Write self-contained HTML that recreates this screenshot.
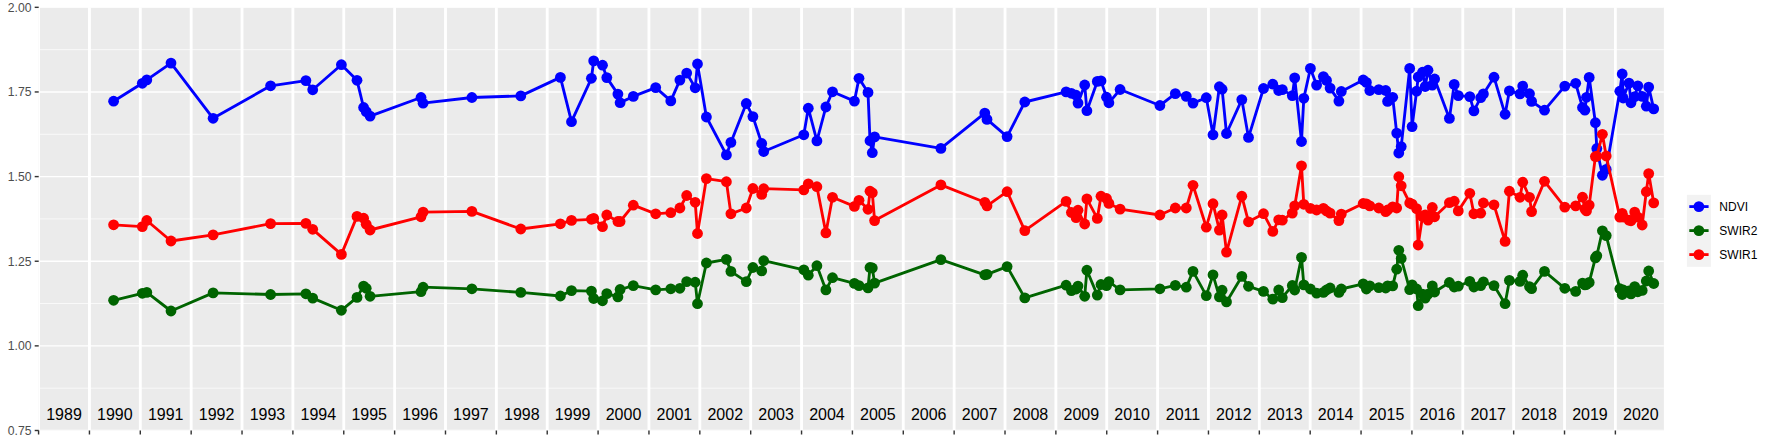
<!DOCTYPE html>
<html><head><meta charset="utf-8"><title>NDVI SWIR time series</title><style>html,body{margin:0;padding:0;background:#fff}svg{display:block}</style></head><body>
<svg width="1773" height="442" viewBox="0 0 1773 442" font-family="'Liberation Sans', sans-serif">
<rect width="1773" height="442" fill="#fff"/>
<defs><clipPath id="pc"><rect x="38.7" y="7.33" width="1625.2" height="423.17"/></clipPath></defs>
<rect x="38.7" y="7.33" width="1625.2" height="423.17" fill="#EBEBEB"/>
<g clip-path="url(#pc)" stroke="#fff" fill="none">
<line x1="38.7" x2="1663.9" y1="49.65" y2="49.65" stroke-width="0.71"/>
<line x1="38.7" x2="1663.9" y1="134.28" y2="134.28" stroke-width="0.71"/>
<line x1="38.7" x2="1663.9" y1="218.92" y2="218.92" stroke-width="0.71"/>
<line x1="38.7" x2="1663.9" y1="303.55" y2="303.55" stroke-width="0.71"/>
<line x1="38.7" x2="1663.9" y1="388.18" y2="388.18" stroke-width="0.71"/>
<line x1="38.7" x2="1663.9" y1="7.33" y2="7.33" stroke-width="1.42"/>
<line x1="38.7" x2="1663.9" y1="91.96" y2="91.96" stroke-width="1.42"/>
<line x1="38.7" x2="1663.9" y1="176.60" y2="176.60" stroke-width="1.42"/>
<line x1="38.7" x2="1663.9" y1="261.23" y2="261.23" stroke-width="1.42"/>
<line x1="38.7" x2="1663.9" y1="345.87" y2="345.87" stroke-width="1.42"/>
<line x1="38.7" x2="1663.9" y1="430.50" y2="430.50" stroke-width="1.42"/>
<line x1="38.57" x2="38.57" y1="7.33" y2="430.5" stroke-width="2.85"/>
<line x1="89.44" x2="89.44" y1="7.33" y2="430.5" stroke-width="2.85"/>
<line x1="140.30" x2="140.30" y1="7.33" y2="430.5" stroke-width="2.85"/>
<line x1="191.17" x2="191.17" y1="7.33" y2="430.5" stroke-width="2.85"/>
<line x1="242.03" x2="242.03" y1="7.33" y2="430.5" stroke-width="2.85"/>
<line x1="292.89" x2="292.89" y1="7.33" y2="430.5" stroke-width="2.85"/>
<line x1="343.76" x2="343.76" y1="7.33" y2="430.5" stroke-width="2.85"/>
<line x1="394.62" x2="394.62" y1="7.33" y2="430.5" stroke-width="2.85"/>
<line x1="445.49" x2="445.49" y1="7.33" y2="430.5" stroke-width="2.85"/>
<line x1="496.36" x2="496.36" y1="7.33" y2="430.5" stroke-width="2.85"/>
<line x1="547.22" x2="547.22" y1="7.33" y2="430.5" stroke-width="2.85"/>
<line x1="598.09" x2="598.09" y1="7.33" y2="430.5" stroke-width="2.85"/>
<line x1="648.95" x2="648.95" y1="7.33" y2="430.5" stroke-width="2.85"/>
<line x1="699.82" x2="699.82" y1="7.33" y2="430.5" stroke-width="2.85"/>
<line x1="750.68" x2="750.68" y1="7.33" y2="430.5" stroke-width="2.85"/>
<line x1="801.55" x2="801.55" y1="7.33" y2="430.5" stroke-width="2.85"/>
<line x1="852.41" x2="852.41" y1="7.33" y2="430.5" stroke-width="2.85"/>
<line x1="903.28" x2="903.28" y1="7.33" y2="430.5" stroke-width="2.85"/>
<line x1="954.14" x2="954.14" y1="7.33" y2="430.5" stroke-width="2.85"/>
<line x1="1005.01" x2="1005.01" y1="7.33" y2="430.5" stroke-width="2.85"/>
<line x1="1055.87" x2="1055.87" y1="7.33" y2="430.5" stroke-width="2.85"/>
<line x1="1106.74" x2="1106.74" y1="7.33" y2="430.5" stroke-width="2.85"/>
<line x1="1157.60" x2="1157.60" y1="7.33" y2="430.5" stroke-width="2.85"/>
<line x1="1208.46" x2="1208.46" y1="7.33" y2="430.5" stroke-width="2.85"/>
<line x1="1259.33" x2="1259.33" y1="7.33" y2="430.5" stroke-width="2.85"/>
<line x1="1310.19" x2="1310.19" y1="7.33" y2="430.5" stroke-width="2.85"/>
<line x1="1361.06" x2="1361.06" y1="7.33" y2="430.5" stroke-width="2.85"/>
<line x1="1411.92" x2="1411.92" y1="7.33" y2="430.5" stroke-width="2.85"/>
<line x1="1462.79" x2="1462.79" y1="7.33" y2="430.5" stroke-width="2.85"/>
<line x1="1513.65" x2="1513.65" y1="7.33" y2="430.5" stroke-width="2.85"/>
<line x1="1564.52" x2="1564.52" y1="7.33" y2="430.5" stroke-width="2.85"/>
<line x1="1615.38" x2="1615.38" y1="7.33" y2="430.5" stroke-width="2.85"/>
</g>
<g clip-path="url(#pc)"><polyline points="113.6,101.2 142.3,83.3 146.8,79.9 171.0,63.1 213.1,118.3 270.6,85.8 305.9,80.6 312.7,89.8 341.4,64.7 357.0,80.3 363.6,107.5 366.2,111.6 370.1,116.1 421.0,97.5 423.1,103.2 471.9,97.5 520.8,95.9 560.4,77.4 571.5,121.7 591.4,78.3 593.7,60.9 602.5,65.2 606.8,77.6 617.9,94.1 620.1,102.7 633.3,96.4 655.7,87.6 670.8,100.9 679.9,80.1 686.7,73.1 695.2,87.8 697.5,64.0 706.4,117.0 726.4,154.9 730.9,142.4 746.3,103.5 752.9,116.6 761.7,143.5 763.7,151.5 803.8,134.8 808.3,108.2 816.9,140.9 825.9,107.0 832.5,91.8 854.4,101.1 859.0,78.3 868.0,92.4 870.0,140.7 872.3,152.7 874.6,136.9 940.9,148.4 984.8,113.1 987.0,119.4 1007.1,136.6 1024.8,102.0 1066.1,91.9 1071.4,93.3 1076.1,95.2 1078.0,103.1 1084.7,85.0 1086.9,110.7 1097.3,81.4 1101.0,80.9 1106.5,97.2 1108.9,102.8 1120.1,89.5 1159.9,105.5 1175.3,93.6 1186.3,96.4 1193.0,103.1 1206.3,97.7 1213.0,134.8 1219.4,86.7 1222.1,89.2 1226.5,133.5 1241.8,99.6 1248.5,137.4 1263.5,88.5 1272.8,84.2 1278.7,90.5 1282.3,89.6 1292.3,95.6 1294.7,77.9 1301.5,141.5 1303.8,98.3 1310.4,68.4 1316.6,85.1 1323.4,76.6 1326.5,80.4 1330.1,88.1 1338.9,101.1 1341.3,91.5 1363.2,80.0 1366.4,82.4 1369.8,90.5 1378.8,89.6 1385.7,90.5 1387.6,101.4 1392.7,97.3 1396.7,133.1 1398.8,153.0 1401.2,146.6 1409.7,68.4 1412.1,126.6 1416.6,91.2 1418.2,77.0 1422.5,72.2 1425.2,86.5 1428.0,70.2 1432.3,85.1 1434.6,79.0 1449.4,118.4 1454.2,84.4 1458.3,95.6 1469.8,96.6 1473.9,110.9 1480.7,97.7 1483.4,93.9 1494.0,77.2 1505.1,114.3 1509.4,90.9 1520.0,93.9 1522.7,86.1 1529.5,93.7 1531.6,101.4 1544.5,110.2 1564.8,86.1 1575.7,83.3 1582.5,107.5 1584.9,110.2 1586.5,97.3 1589.2,77.4 1595.4,122.7 1596.8,148.5 1602.4,175.3 1606.2,169.4 1619.8,91.2 1622.2,74.0 1623.2,98.0 1629.0,83.1 1631.0,102.8 1634.7,96.6 1637.8,85.8 1642.2,96.4 1646.3,106.2 1648.7,87.1 1653.7,108.9" fill="none" stroke="#0000FF" stroke-width="2.85" stroke-linejoin="round" stroke-linecap="butt"/><g fill="#0000FF"><circle cx="113.6" cy="101.2" r="5.4"/><circle cx="142.3" cy="83.3" r="5.4"/><circle cx="146.8" cy="79.9" r="5.4"/><circle cx="171.0" cy="63.1" r="5.4"/><circle cx="213.1" cy="118.3" r="5.4"/><circle cx="270.6" cy="85.8" r="5.4"/><circle cx="305.9" cy="80.6" r="5.4"/><circle cx="312.7" cy="89.8" r="5.4"/><circle cx="341.4" cy="64.7" r="5.4"/><circle cx="357.0" cy="80.3" r="5.4"/><circle cx="363.6" cy="107.5" r="5.4"/><circle cx="366.2" cy="111.6" r="5.4"/><circle cx="370.1" cy="116.1" r="5.4"/><circle cx="421.0" cy="97.5" r="5.4"/><circle cx="423.1" cy="103.2" r="5.4"/><circle cx="471.9" cy="97.5" r="5.4"/><circle cx="520.8" cy="95.9" r="5.4"/><circle cx="560.4" cy="77.4" r="5.4"/><circle cx="571.5" cy="121.7" r="5.4"/><circle cx="591.4" cy="78.3" r="5.4"/><circle cx="593.7" cy="60.9" r="5.4"/><circle cx="602.5" cy="65.2" r="5.4"/><circle cx="606.8" cy="77.6" r="5.4"/><circle cx="617.9" cy="94.1" r="5.4"/><circle cx="620.1" cy="102.7" r="5.4"/><circle cx="633.3" cy="96.4" r="5.4"/><circle cx="655.7" cy="87.6" r="5.4"/><circle cx="670.8" cy="100.9" r="5.4"/><circle cx="679.9" cy="80.1" r="5.4"/><circle cx="686.7" cy="73.1" r="5.4"/><circle cx="695.2" cy="87.8" r="5.4"/><circle cx="697.5" cy="64.0" r="5.4"/><circle cx="706.4" cy="117.0" r="5.4"/><circle cx="726.4" cy="154.9" r="5.4"/><circle cx="730.9" cy="142.4" r="5.4"/><circle cx="746.3" cy="103.5" r="5.4"/><circle cx="752.9" cy="116.6" r="5.4"/><circle cx="761.7" cy="143.5" r="5.4"/><circle cx="763.7" cy="151.5" r="5.4"/><circle cx="803.8" cy="134.8" r="5.4"/><circle cx="808.3" cy="108.2" r="5.4"/><circle cx="816.9" cy="140.9" r="5.4"/><circle cx="825.9" cy="107.0" r="5.4"/><circle cx="832.5" cy="91.8" r="5.4"/><circle cx="854.4" cy="101.1" r="5.4"/><circle cx="859.0" cy="78.3" r="5.4"/><circle cx="868.0" cy="92.4" r="5.4"/><circle cx="870.0" cy="140.7" r="5.4"/><circle cx="872.3" cy="152.7" r="5.4"/><circle cx="874.6" cy="136.9" r="5.4"/><circle cx="940.9" cy="148.4" r="5.4"/><circle cx="984.8" cy="113.1" r="5.4"/><circle cx="987.0" cy="119.4" r="5.4"/><circle cx="1007.1" cy="136.6" r="5.4"/><circle cx="1024.8" cy="102.0" r="5.4"/><circle cx="1066.1" cy="91.9" r="5.4"/><circle cx="1071.4" cy="93.3" r="5.4"/><circle cx="1076.1" cy="95.2" r="5.4"/><circle cx="1078.0" cy="103.1" r="5.4"/><circle cx="1084.7" cy="85.0" r="5.4"/><circle cx="1086.9" cy="110.7" r="5.4"/><circle cx="1097.3" cy="81.4" r="5.4"/><circle cx="1101.0" cy="80.9" r="5.4"/><circle cx="1106.5" cy="97.2" r="5.4"/><circle cx="1108.9" cy="102.8" r="5.4"/><circle cx="1120.1" cy="89.5" r="5.4"/><circle cx="1159.9" cy="105.5" r="5.4"/><circle cx="1175.3" cy="93.6" r="5.4"/><circle cx="1186.3" cy="96.4" r="5.4"/><circle cx="1193.0" cy="103.1" r="5.4"/><circle cx="1206.3" cy="97.7" r="5.4"/><circle cx="1213.0" cy="134.8" r="5.4"/><circle cx="1219.4" cy="86.7" r="5.4"/><circle cx="1222.1" cy="89.2" r="5.4"/><circle cx="1226.5" cy="133.5" r="5.4"/><circle cx="1241.8" cy="99.6" r="5.4"/><circle cx="1248.5" cy="137.4" r="5.4"/><circle cx="1263.5" cy="88.5" r="5.4"/><circle cx="1272.8" cy="84.2" r="5.4"/><circle cx="1278.7" cy="90.5" r="5.4"/><circle cx="1282.3" cy="89.6" r="5.4"/><circle cx="1292.3" cy="95.6" r="5.4"/><circle cx="1294.7" cy="77.9" r="5.4"/><circle cx="1301.5" cy="141.5" r="5.4"/><circle cx="1303.8" cy="98.3" r="5.4"/><circle cx="1310.4" cy="68.4" r="5.4"/><circle cx="1316.6" cy="85.1" r="5.4"/><circle cx="1323.4" cy="76.6" r="5.4"/><circle cx="1326.5" cy="80.4" r="5.4"/><circle cx="1330.1" cy="88.1" r="5.4"/><circle cx="1338.9" cy="101.1" r="5.4"/><circle cx="1341.3" cy="91.5" r="5.4"/><circle cx="1363.2" cy="80.0" r="5.4"/><circle cx="1366.4" cy="82.4" r="5.4"/><circle cx="1369.8" cy="90.5" r="5.4"/><circle cx="1378.8" cy="89.6" r="5.4"/><circle cx="1385.7" cy="90.5" r="5.4"/><circle cx="1387.6" cy="101.4" r="5.4"/><circle cx="1392.7" cy="97.3" r="5.4"/><circle cx="1396.7" cy="133.1" r="5.4"/><circle cx="1398.8" cy="153.0" r="5.4"/><circle cx="1401.2" cy="146.6" r="5.4"/><circle cx="1409.7" cy="68.4" r="5.4"/><circle cx="1412.1" cy="126.6" r="5.4"/><circle cx="1416.6" cy="91.2" r="5.4"/><circle cx="1418.2" cy="77.0" r="5.4"/><circle cx="1422.5" cy="72.2" r="5.4"/><circle cx="1425.2" cy="86.5" r="5.4"/><circle cx="1428.0" cy="70.2" r="5.4"/><circle cx="1432.3" cy="85.1" r="5.4"/><circle cx="1434.6" cy="79.0" r="5.4"/><circle cx="1449.4" cy="118.4" r="5.4"/><circle cx="1454.2" cy="84.4" r="5.4"/><circle cx="1458.3" cy="95.6" r="5.4"/><circle cx="1469.8" cy="96.6" r="5.4"/><circle cx="1473.9" cy="110.9" r="5.4"/><circle cx="1480.7" cy="97.7" r="5.4"/><circle cx="1483.4" cy="93.9" r="5.4"/><circle cx="1494.0" cy="77.2" r="5.4"/><circle cx="1505.1" cy="114.3" r="5.4"/><circle cx="1509.4" cy="90.9" r="5.4"/><circle cx="1520.0" cy="93.9" r="5.4"/><circle cx="1522.7" cy="86.1" r="5.4"/><circle cx="1529.5" cy="93.7" r="5.4"/><circle cx="1531.6" cy="101.4" r="5.4"/><circle cx="1544.5" cy="110.2" r="5.4"/><circle cx="1564.8" cy="86.1" r="5.4"/><circle cx="1575.7" cy="83.3" r="5.4"/><circle cx="1582.5" cy="107.5" r="5.4"/><circle cx="1584.9" cy="110.2" r="5.4"/><circle cx="1586.5" cy="97.3" r="5.4"/><circle cx="1589.2" cy="77.4" r="5.4"/><circle cx="1595.4" cy="122.7" r="5.4"/><circle cx="1596.8" cy="148.5" r="5.4"/><circle cx="1602.4" cy="175.3" r="5.4"/><circle cx="1606.2" cy="169.4" r="5.4"/><circle cx="1619.8" cy="91.2" r="5.4"/><circle cx="1622.2" cy="74.0" r="5.4"/><circle cx="1623.2" cy="98.0" r="5.4"/><circle cx="1629.0" cy="83.1" r="5.4"/><circle cx="1631.0" cy="102.8" r="5.4"/><circle cx="1634.7" cy="96.6" r="5.4"/><circle cx="1637.8" cy="85.8" r="5.4"/><circle cx="1642.2" cy="96.4" r="5.4"/><circle cx="1646.3" cy="106.2" r="5.4"/><circle cx="1648.7" cy="87.1" r="5.4"/><circle cx="1653.7" cy="108.9" r="5.4"/></g></g>
<g clip-path="url(#pc)"><polyline points="113.6,300.3 142.3,293.3 146.8,292.4 171.0,311.0 213.1,292.9 270.6,294.5 305.9,293.8 312.7,298.1 341.4,310.3 357.0,297.4 363.6,286.1 366.2,288.3 370.1,296.3 421.0,291.7 423.1,287.2 471.9,288.8 520.8,292.4 560.4,296.0 571.5,290.6 591.4,291.1 593.7,298.5 602.5,300.8 606.8,293.6 617.9,296.9 620.1,289.5 633.3,285.6 655.7,289.9 670.8,288.8 679.9,288.3 686.7,281.6 695.2,282.2 697.5,303.7 706.4,263.0 726.4,259.4 730.9,271.4 746.3,281.6 752.9,267.5 761.7,270.9 763.7,260.7 803.8,269.8 808.3,275.2 816.9,265.7 825.9,289.9 832.5,277.7 854.4,283.4 859.0,285.6 868.0,287.9 870.0,267.5 872.3,268.0 874.6,283.1 940.9,259.6 984.8,274.8 987.0,274.3 1007.1,266.6 1024.8,297.9 1066.1,285.2 1071.4,290.6 1076.1,289.0 1078.0,286.1 1084.7,296.3 1086.9,270.2 1097.3,295.1 1101.0,284.5 1106.5,285.6 1108.9,281.6 1120.1,289.9 1159.9,288.8 1175.3,285.4 1186.3,287.2 1193.0,271.4 1206.3,295.6 1213.0,274.8 1219.4,296.9 1222.1,290.2 1226.5,301.9 1241.8,276.4 1248.5,286.3 1263.5,291.4 1272.8,299.2 1278.7,290.0 1282.3,297.7 1292.3,285.5 1294.7,290.0 1301.5,257.4 1303.8,284.9 1310.4,289.0 1316.6,293.1 1323.4,292.4 1326.5,290.0 1330.1,288.0 1338.9,292.4 1341.3,289.0 1363.2,283.9 1366.4,289.0 1369.8,285.9 1378.8,287.6 1385.7,288.0 1387.6,285.9 1392.7,285.9 1396.7,269.2 1398.8,250.3 1401.2,258.4 1409.7,289.6 1412.1,284.9 1416.6,289.0 1418.2,305.7 1422.5,294.1 1425.2,298.1 1428.0,294.1 1432.3,285.9 1434.6,292.0 1449.4,282.5 1454.2,287.0 1458.3,286.2 1469.8,281.4 1473.9,287.0 1480.7,285.6 1483.4,281.8 1494.0,285.6 1505.1,303.7 1509.4,280.4 1520.0,281.4 1522.7,275.2 1529.5,286.6 1531.6,288.7 1544.5,271.4 1564.8,288.3 1575.7,291.4 1582.5,283.1 1584.9,284.9 1586.5,284.5 1589.2,282.4 1595.4,257.9 1596.8,255.8 1602.4,230.8 1606.2,235.6 1619.8,288.7 1622.2,294.5 1623.2,290.0 1629.0,290.8 1631.0,293.9 1634.7,286.6 1637.8,291.8 1642.2,290.4 1646.3,281.0 1648.7,271.0 1653.7,283.5" fill="none" stroke="#006400" stroke-width="2.85" stroke-linejoin="round" stroke-linecap="butt"/><g fill="#006400"><circle cx="113.6" cy="300.3" r="5.4"/><circle cx="142.3" cy="293.3" r="5.4"/><circle cx="146.8" cy="292.4" r="5.4"/><circle cx="171.0" cy="311.0" r="5.4"/><circle cx="213.1" cy="292.9" r="5.4"/><circle cx="270.6" cy="294.5" r="5.4"/><circle cx="305.9" cy="293.8" r="5.4"/><circle cx="312.7" cy="298.1" r="5.4"/><circle cx="341.4" cy="310.3" r="5.4"/><circle cx="357.0" cy="297.4" r="5.4"/><circle cx="363.6" cy="286.1" r="5.4"/><circle cx="366.2" cy="288.3" r="5.4"/><circle cx="370.1" cy="296.3" r="5.4"/><circle cx="421.0" cy="291.7" r="5.4"/><circle cx="423.1" cy="287.2" r="5.4"/><circle cx="471.9" cy="288.8" r="5.4"/><circle cx="520.8" cy="292.4" r="5.4"/><circle cx="560.4" cy="296.0" r="5.4"/><circle cx="571.5" cy="290.6" r="5.4"/><circle cx="591.4" cy="291.1" r="5.4"/><circle cx="593.7" cy="298.5" r="5.4"/><circle cx="602.5" cy="300.8" r="5.4"/><circle cx="606.8" cy="293.6" r="5.4"/><circle cx="617.9" cy="296.9" r="5.4"/><circle cx="620.1" cy="289.5" r="5.4"/><circle cx="633.3" cy="285.6" r="5.4"/><circle cx="655.7" cy="289.9" r="5.4"/><circle cx="670.8" cy="288.8" r="5.4"/><circle cx="679.9" cy="288.3" r="5.4"/><circle cx="686.7" cy="281.6" r="5.4"/><circle cx="695.2" cy="282.2" r="5.4"/><circle cx="697.5" cy="303.7" r="5.4"/><circle cx="706.4" cy="263.0" r="5.4"/><circle cx="726.4" cy="259.4" r="5.4"/><circle cx="730.9" cy="271.4" r="5.4"/><circle cx="746.3" cy="281.6" r="5.4"/><circle cx="752.9" cy="267.5" r="5.4"/><circle cx="761.7" cy="270.9" r="5.4"/><circle cx="763.7" cy="260.7" r="5.4"/><circle cx="803.8" cy="269.8" r="5.4"/><circle cx="808.3" cy="275.2" r="5.4"/><circle cx="816.9" cy="265.7" r="5.4"/><circle cx="825.9" cy="289.9" r="5.4"/><circle cx="832.5" cy="277.7" r="5.4"/><circle cx="854.4" cy="283.4" r="5.4"/><circle cx="859.0" cy="285.6" r="5.4"/><circle cx="868.0" cy="287.9" r="5.4"/><circle cx="870.0" cy="267.5" r="5.4"/><circle cx="872.3" cy="268.0" r="5.4"/><circle cx="874.6" cy="283.1" r="5.4"/><circle cx="940.9" cy="259.6" r="5.4"/><circle cx="984.8" cy="274.8" r="5.4"/><circle cx="987.0" cy="274.3" r="5.4"/><circle cx="1007.1" cy="266.6" r="5.4"/><circle cx="1024.8" cy="297.9" r="5.4"/><circle cx="1066.1" cy="285.2" r="5.4"/><circle cx="1071.4" cy="290.6" r="5.4"/><circle cx="1076.1" cy="289.0" r="5.4"/><circle cx="1078.0" cy="286.1" r="5.4"/><circle cx="1084.7" cy="296.3" r="5.4"/><circle cx="1086.9" cy="270.2" r="5.4"/><circle cx="1097.3" cy="295.1" r="5.4"/><circle cx="1101.0" cy="284.5" r="5.4"/><circle cx="1106.5" cy="285.6" r="5.4"/><circle cx="1108.9" cy="281.6" r="5.4"/><circle cx="1120.1" cy="289.9" r="5.4"/><circle cx="1159.9" cy="288.8" r="5.4"/><circle cx="1175.3" cy="285.4" r="5.4"/><circle cx="1186.3" cy="287.2" r="5.4"/><circle cx="1193.0" cy="271.4" r="5.4"/><circle cx="1206.3" cy="295.6" r="5.4"/><circle cx="1213.0" cy="274.8" r="5.4"/><circle cx="1219.4" cy="296.9" r="5.4"/><circle cx="1222.1" cy="290.2" r="5.4"/><circle cx="1226.5" cy="301.9" r="5.4"/><circle cx="1241.8" cy="276.4" r="5.4"/><circle cx="1248.5" cy="286.3" r="5.4"/><circle cx="1263.5" cy="291.4" r="5.4"/><circle cx="1272.8" cy="299.2" r="5.4"/><circle cx="1278.7" cy="290.0" r="5.4"/><circle cx="1282.3" cy="297.7" r="5.4"/><circle cx="1292.3" cy="285.5" r="5.4"/><circle cx="1294.7" cy="290.0" r="5.4"/><circle cx="1301.5" cy="257.4" r="5.4"/><circle cx="1303.8" cy="284.9" r="5.4"/><circle cx="1310.4" cy="289.0" r="5.4"/><circle cx="1316.6" cy="293.1" r="5.4"/><circle cx="1323.4" cy="292.4" r="5.4"/><circle cx="1326.5" cy="290.0" r="5.4"/><circle cx="1330.1" cy="288.0" r="5.4"/><circle cx="1338.9" cy="292.4" r="5.4"/><circle cx="1341.3" cy="289.0" r="5.4"/><circle cx="1363.2" cy="283.9" r="5.4"/><circle cx="1366.4" cy="289.0" r="5.4"/><circle cx="1369.8" cy="285.9" r="5.4"/><circle cx="1378.8" cy="287.6" r="5.4"/><circle cx="1385.7" cy="288.0" r="5.4"/><circle cx="1387.6" cy="285.9" r="5.4"/><circle cx="1392.7" cy="285.9" r="5.4"/><circle cx="1396.7" cy="269.2" r="5.4"/><circle cx="1398.8" cy="250.3" r="5.4"/><circle cx="1401.2" cy="258.4" r="5.4"/><circle cx="1409.7" cy="289.6" r="5.4"/><circle cx="1412.1" cy="284.9" r="5.4"/><circle cx="1416.6" cy="289.0" r="5.4"/><circle cx="1418.2" cy="305.7" r="5.4"/><circle cx="1422.5" cy="294.1" r="5.4"/><circle cx="1425.2" cy="298.1" r="5.4"/><circle cx="1428.0" cy="294.1" r="5.4"/><circle cx="1432.3" cy="285.9" r="5.4"/><circle cx="1434.6" cy="292.0" r="5.4"/><circle cx="1449.4" cy="282.5" r="5.4"/><circle cx="1454.2" cy="287.0" r="5.4"/><circle cx="1458.3" cy="286.2" r="5.4"/><circle cx="1469.8" cy="281.4" r="5.4"/><circle cx="1473.9" cy="287.0" r="5.4"/><circle cx="1480.7" cy="285.6" r="5.4"/><circle cx="1483.4" cy="281.8" r="5.4"/><circle cx="1494.0" cy="285.6" r="5.4"/><circle cx="1505.1" cy="303.7" r="5.4"/><circle cx="1509.4" cy="280.4" r="5.4"/><circle cx="1520.0" cy="281.4" r="5.4"/><circle cx="1522.7" cy="275.2" r="5.4"/><circle cx="1529.5" cy="286.6" r="5.4"/><circle cx="1531.6" cy="288.7" r="5.4"/><circle cx="1544.5" cy="271.4" r="5.4"/><circle cx="1564.8" cy="288.3" r="5.4"/><circle cx="1575.7" cy="291.4" r="5.4"/><circle cx="1582.5" cy="283.1" r="5.4"/><circle cx="1584.9" cy="284.9" r="5.4"/><circle cx="1586.5" cy="284.5" r="5.4"/><circle cx="1589.2" cy="282.4" r="5.4"/><circle cx="1595.4" cy="257.9" r="5.4"/><circle cx="1596.8" cy="255.8" r="5.4"/><circle cx="1602.4" cy="230.8" r="5.4"/><circle cx="1606.2" cy="235.6" r="5.4"/><circle cx="1619.8" cy="288.7" r="5.4"/><circle cx="1622.2" cy="294.5" r="5.4"/><circle cx="1623.2" cy="290.0" r="5.4"/><circle cx="1629.0" cy="290.8" r="5.4"/><circle cx="1631.0" cy="293.9" r="5.4"/><circle cx="1634.7" cy="286.6" r="5.4"/><circle cx="1637.8" cy="291.8" r="5.4"/><circle cx="1642.2" cy="290.4" r="5.4"/><circle cx="1646.3" cy="281.0" r="5.4"/><circle cx="1648.7" cy="271.0" r="5.4"/><circle cx="1653.7" cy="283.5" r="5.4"/></g></g>
<g clip-path="url(#pc)"><polyline points="113.6,224.8 142.3,226.6 146.8,220.5 171.0,241.0 213.1,234.9 270.6,223.6 305.9,223.4 312.7,229.3 341.4,254.4 357.0,216.4 363.6,218.2 366.2,224.3 370.1,230.0 421.0,216.8 423.1,212.1 471.9,211.4 520.8,229.0 560.4,223.8 571.5,220.4 591.4,219.3 593.7,218.4 602.5,226.7 606.8,215.0 617.9,221.5 620.1,221.5 633.3,205.2 655.7,213.8 670.8,212.7 679.9,208.0 686.7,195.5 695.2,202.3 697.5,233.5 706.4,178.6 726.4,181.7 730.9,213.8 746.3,208.0 752.9,188.5 761.7,194.4 763.7,188.7 803.8,189.9 808.3,183.8 816.9,186.7 825.9,232.9 832.5,197.3 854.4,206.4 859.0,200.3 868.0,209.3 870.0,191.2 872.3,192.8 874.6,220.6 940.9,184.9 984.8,202.3 987.0,205.9 1007.1,191.7 1024.8,230.6 1066.1,201.4 1071.4,212.5 1076.1,217.7 1078.0,210.2 1084.7,224.0 1086.9,198.9 1097.3,218.4 1101.0,196.2 1106.5,198.5 1108.9,203.4 1120.1,209.1 1159.9,215.0 1175.3,208.0 1186.3,208.0 1193.0,185.3 1206.3,227.2 1213.0,203.7 1219.4,230.1 1222.1,215.0 1226.5,252.1 1241.8,196.2 1248.5,221.8 1263.5,213.7 1272.8,231.4 1278.7,219.8 1282.3,220.2 1292.3,213.1 1294.7,205.9 1301.5,165.8 1303.8,204.3 1310.4,208.4 1316.6,210.0 1323.4,208.4 1326.5,211.0 1330.1,213.1 1338.9,220.6 1341.3,214.1 1363.2,203.5 1366.4,203.9 1369.8,205.9 1378.8,208.0 1385.7,211.6 1387.6,210.0 1392.7,206.9 1396.7,208.0 1398.8,176.7 1401.2,185.8 1409.7,203.0 1412.1,204.1 1416.6,208.6 1418.2,245.0 1422.5,216.4 1425.2,214.8 1428.0,220.1 1432.3,207.5 1434.6,216.8 1449.4,202.7 1454.2,201.2 1458.3,210.9 1469.8,193.3 1473.9,213.8 1480.7,213.2 1483.4,203.0 1494.0,204.8 1505.1,241.4 1509.4,191.2 1520.0,197.3 1522.7,182.2 1529.5,197.3 1531.6,211.6 1544.5,181.3 1564.8,207.1 1575.7,205.9 1582.5,197.2 1584.9,209.1 1586.5,210.9 1589.2,205.1 1595.4,156.6 1596.8,156.2 1602.4,134.3 1606.2,156.0 1619.8,217.1 1622.2,213.4 1623.2,217.0 1629.0,220.1 1631.0,220.8 1634.7,212.1 1637.8,217.1 1642.2,225.0 1646.3,191.7 1648.7,173.6 1653.7,202.9" fill="none" stroke="#FF0000" stroke-width="2.85" stroke-linejoin="round" stroke-linecap="butt"/><g fill="#FF0000"><circle cx="113.6" cy="224.8" r="5.4"/><circle cx="142.3" cy="226.6" r="5.4"/><circle cx="146.8" cy="220.5" r="5.4"/><circle cx="171.0" cy="241.0" r="5.4"/><circle cx="213.1" cy="234.9" r="5.4"/><circle cx="270.6" cy="223.6" r="5.4"/><circle cx="305.9" cy="223.4" r="5.4"/><circle cx="312.7" cy="229.3" r="5.4"/><circle cx="341.4" cy="254.4" r="5.4"/><circle cx="357.0" cy="216.4" r="5.4"/><circle cx="363.6" cy="218.2" r="5.4"/><circle cx="366.2" cy="224.3" r="5.4"/><circle cx="370.1" cy="230.0" r="5.4"/><circle cx="421.0" cy="216.8" r="5.4"/><circle cx="423.1" cy="212.1" r="5.4"/><circle cx="471.9" cy="211.4" r="5.4"/><circle cx="520.8" cy="229.0" r="5.4"/><circle cx="560.4" cy="223.8" r="5.4"/><circle cx="571.5" cy="220.4" r="5.4"/><circle cx="591.4" cy="219.3" r="5.4"/><circle cx="593.7" cy="218.4" r="5.4"/><circle cx="602.5" cy="226.7" r="5.4"/><circle cx="606.8" cy="215.0" r="5.4"/><circle cx="617.9" cy="221.5" r="5.4"/><circle cx="620.1" cy="221.5" r="5.4"/><circle cx="633.3" cy="205.2" r="5.4"/><circle cx="655.7" cy="213.8" r="5.4"/><circle cx="670.8" cy="212.7" r="5.4"/><circle cx="679.9" cy="208.0" r="5.4"/><circle cx="686.7" cy="195.5" r="5.4"/><circle cx="695.2" cy="202.3" r="5.4"/><circle cx="697.5" cy="233.5" r="5.4"/><circle cx="706.4" cy="178.6" r="5.4"/><circle cx="726.4" cy="181.7" r="5.4"/><circle cx="730.9" cy="213.8" r="5.4"/><circle cx="746.3" cy="208.0" r="5.4"/><circle cx="752.9" cy="188.5" r="5.4"/><circle cx="761.7" cy="194.4" r="5.4"/><circle cx="763.7" cy="188.7" r="5.4"/><circle cx="803.8" cy="189.9" r="5.4"/><circle cx="808.3" cy="183.8" r="5.4"/><circle cx="816.9" cy="186.7" r="5.4"/><circle cx="825.9" cy="232.9" r="5.4"/><circle cx="832.5" cy="197.3" r="5.4"/><circle cx="854.4" cy="206.4" r="5.4"/><circle cx="859.0" cy="200.3" r="5.4"/><circle cx="868.0" cy="209.3" r="5.4"/><circle cx="870.0" cy="191.2" r="5.4"/><circle cx="872.3" cy="192.8" r="5.4"/><circle cx="874.6" cy="220.6" r="5.4"/><circle cx="940.9" cy="184.9" r="5.4"/><circle cx="984.8" cy="202.3" r="5.4"/><circle cx="987.0" cy="205.9" r="5.4"/><circle cx="1007.1" cy="191.7" r="5.4"/><circle cx="1024.8" cy="230.6" r="5.4"/><circle cx="1066.1" cy="201.4" r="5.4"/><circle cx="1071.4" cy="212.5" r="5.4"/><circle cx="1076.1" cy="217.7" r="5.4"/><circle cx="1078.0" cy="210.2" r="5.4"/><circle cx="1084.7" cy="224.0" r="5.4"/><circle cx="1086.9" cy="198.9" r="5.4"/><circle cx="1097.3" cy="218.4" r="5.4"/><circle cx="1101.0" cy="196.2" r="5.4"/><circle cx="1106.5" cy="198.5" r="5.4"/><circle cx="1108.9" cy="203.4" r="5.4"/><circle cx="1120.1" cy="209.1" r="5.4"/><circle cx="1159.9" cy="215.0" r="5.4"/><circle cx="1175.3" cy="208.0" r="5.4"/><circle cx="1186.3" cy="208.0" r="5.4"/><circle cx="1193.0" cy="185.3" r="5.4"/><circle cx="1206.3" cy="227.2" r="5.4"/><circle cx="1213.0" cy="203.7" r="5.4"/><circle cx="1219.4" cy="230.1" r="5.4"/><circle cx="1222.1" cy="215.0" r="5.4"/><circle cx="1226.5" cy="252.1" r="5.4"/><circle cx="1241.8" cy="196.2" r="5.4"/><circle cx="1248.5" cy="221.8" r="5.4"/><circle cx="1263.5" cy="213.7" r="5.4"/><circle cx="1272.8" cy="231.4" r="5.4"/><circle cx="1278.7" cy="219.8" r="5.4"/><circle cx="1282.3" cy="220.2" r="5.4"/><circle cx="1292.3" cy="213.1" r="5.4"/><circle cx="1294.7" cy="205.9" r="5.4"/><circle cx="1301.5" cy="165.8" r="5.4"/><circle cx="1303.8" cy="204.3" r="5.4"/><circle cx="1310.4" cy="208.4" r="5.4"/><circle cx="1316.6" cy="210.0" r="5.4"/><circle cx="1323.4" cy="208.4" r="5.4"/><circle cx="1326.5" cy="211.0" r="5.4"/><circle cx="1330.1" cy="213.1" r="5.4"/><circle cx="1338.9" cy="220.6" r="5.4"/><circle cx="1341.3" cy="214.1" r="5.4"/><circle cx="1363.2" cy="203.5" r="5.4"/><circle cx="1366.4" cy="203.9" r="5.4"/><circle cx="1369.8" cy="205.9" r="5.4"/><circle cx="1378.8" cy="208.0" r="5.4"/><circle cx="1385.7" cy="211.6" r="5.4"/><circle cx="1387.6" cy="210.0" r="5.4"/><circle cx="1392.7" cy="206.9" r="5.4"/><circle cx="1396.7" cy="208.0" r="5.4"/><circle cx="1398.8" cy="176.7" r="5.4"/><circle cx="1401.2" cy="185.8" r="5.4"/><circle cx="1409.7" cy="203.0" r="5.4"/><circle cx="1412.1" cy="204.1" r="5.4"/><circle cx="1416.6" cy="208.6" r="5.4"/><circle cx="1418.2" cy="245.0" r="5.4"/><circle cx="1422.5" cy="216.4" r="5.4"/><circle cx="1425.2" cy="214.8" r="5.4"/><circle cx="1428.0" cy="220.1" r="5.4"/><circle cx="1432.3" cy="207.5" r="5.4"/><circle cx="1434.6" cy="216.8" r="5.4"/><circle cx="1449.4" cy="202.7" r="5.4"/><circle cx="1454.2" cy="201.2" r="5.4"/><circle cx="1458.3" cy="210.9" r="5.4"/><circle cx="1469.8" cy="193.3" r="5.4"/><circle cx="1473.9" cy="213.8" r="5.4"/><circle cx="1480.7" cy="213.2" r="5.4"/><circle cx="1483.4" cy="203.0" r="5.4"/><circle cx="1494.0" cy="204.8" r="5.4"/><circle cx="1505.1" cy="241.4" r="5.4"/><circle cx="1509.4" cy="191.2" r="5.4"/><circle cx="1520.0" cy="197.3" r="5.4"/><circle cx="1522.7" cy="182.2" r="5.4"/><circle cx="1529.5" cy="197.3" r="5.4"/><circle cx="1531.6" cy="211.6" r="5.4"/><circle cx="1544.5" cy="181.3" r="5.4"/><circle cx="1564.8" cy="207.1" r="5.4"/><circle cx="1575.7" cy="205.9" r="5.4"/><circle cx="1582.5" cy="197.2" r="5.4"/><circle cx="1584.9" cy="209.1" r="5.4"/><circle cx="1586.5" cy="210.9" r="5.4"/><circle cx="1589.2" cy="205.1" r="5.4"/><circle cx="1595.4" cy="156.6" r="5.4"/><circle cx="1596.8" cy="156.2" r="5.4"/><circle cx="1602.4" cy="134.3" r="5.4"/><circle cx="1606.2" cy="156.0" r="5.4"/><circle cx="1619.8" cy="217.1" r="5.4"/><circle cx="1622.2" cy="213.4" r="5.4"/><circle cx="1623.2" cy="217.0" r="5.4"/><circle cx="1629.0" cy="220.1" r="5.4"/><circle cx="1631.0" cy="220.8" r="5.4"/><circle cx="1634.7" cy="212.1" r="5.4"/><circle cx="1637.8" cy="217.1" r="5.4"/><circle cx="1642.2" cy="225.0" r="5.4"/><circle cx="1646.3" cy="191.7" r="5.4"/><circle cx="1648.7" cy="173.6" r="5.4"/><circle cx="1653.7" cy="202.9" r="5.4"/></g></g>
<g stroke="#333" stroke-width="1.42">
<line x1="34.7" x2="38.7" y1="7.33" y2="7.33"/>
<line x1="34.7" x2="38.7" y1="91.96" y2="91.96"/>
<line x1="34.7" x2="38.7" y1="176.60" y2="176.60"/>
<line x1="34.7" x2="38.7" y1="261.23" y2="261.23"/>
<line x1="34.7" x2="38.7" y1="345.87" y2="345.87"/>
<line x1="34.7" x2="38.7" y1="430.50" y2="430.50"/>
<line x1="38.57" x2="38.57" y1="430.5" y2="434.5"/>
<line x1="89.44" x2="89.44" y1="430.5" y2="434.5"/>
<line x1="140.30" x2="140.30" y1="430.5" y2="434.5"/>
<line x1="191.17" x2="191.17" y1="430.5" y2="434.5"/>
<line x1="242.03" x2="242.03" y1="430.5" y2="434.5"/>
<line x1="292.89" x2="292.89" y1="430.5" y2="434.5"/>
<line x1="343.76" x2="343.76" y1="430.5" y2="434.5"/>
<line x1="394.62" x2="394.62" y1="430.5" y2="434.5"/>
<line x1="445.49" x2="445.49" y1="430.5" y2="434.5"/>
<line x1="496.36" x2="496.36" y1="430.5" y2="434.5"/>
<line x1="547.22" x2="547.22" y1="430.5" y2="434.5"/>
<line x1="598.09" x2="598.09" y1="430.5" y2="434.5"/>
<line x1="648.95" x2="648.95" y1="430.5" y2="434.5"/>
<line x1="699.82" x2="699.82" y1="430.5" y2="434.5"/>
<line x1="750.68" x2="750.68" y1="430.5" y2="434.5"/>
<line x1="801.55" x2="801.55" y1="430.5" y2="434.5"/>
<line x1="852.41" x2="852.41" y1="430.5" y2="434.5"/>
<line x1="903.28" x2="903.28" y1="430.5" y2="434.5"/>
<line x1="954.14" x2="954.14" y1="430.5" y2="434.5"/>
<line x1="1005.01" x2="1005.01" y1="430.5" y2="434.5"/>
<line x1="1055.87" x2="1055.87" y1="430.5" y2="434.5"/>
<line x1="1106.74" x2="1106.74" y1="430.5" y2="434.5"/>
<line x1="1157.60" x2="1157.60" y1="430.5" y2="434.5"/>
<line x1="1208.46" x2="1208.46" y1="430.5" y2="434.5"/>
<line x1="1259.33" x2="1259.33" y1="430.5" y2="434.5"/>
<line x1="1310.19" x2="1310.19" y1="430.5" y2="434.5"/>
<line x1="1361.06" x2="1361.06" y1="430.5" y2="434.5"/>
<line x1="1411.92" x2="1411.92" y1="430.5" y2="434.5"/>
<line x1="1462.79" x2="1462.79" y1="430.5" y2="434.5"/>
<line x1="1513.65" x2="1513.65" y1="430.5" y2="434.5"/>
<line x1="1564.52" x2="1564.52" y1="430.5" y2="434.5"/>
<line x1="1615.38" x2="1615.38" y1="430.5" y2="434.5"/>
</g>
<g font-size="12.2" fill="#4D4D4D" text-anchor="end">
<text x="31.5" y="11.73">2.00</text>
<text x="31.5" y="96.36">1.75</text>
<text x="31.5" y="181.00">1.50</text>
<text x="31.5" y="265.63">1.25</text>
<text x="31.5" y="350.27">1.00</text>
<text x="31.5" y="434.90">0.75</text>
</g>
<g font-size="16" fill="#000" text-anchor="middle">
<text x="64.00" y="419.8">1989</text>
<text x="114.87" y="419.8">1990</text>
<text x="165.73" y="419.8">1991</text>
<text x="216.60" y="419.8">1992</text>
<text x="267.46" y="419.8">1993</text>
<text x="318.33" y="419.8">1994</text>
<text x="369.19" y="419.8">1995</text>
<text x="420.06" y="419.8">1996</text>
<text x="470.92" y="419.8">1997</text>
<text x="521.79" y="419.8">1998</text>
<text x="572.65" y="419.8">1999</text>
<text x="623.52" y="419.8">2000</text>
<text x="674.38" y="419.8">2001</text>
<text x="725.25" y="419.8">2002</text>
<text x="776.11" y="419.8">2003</text>
<text x="826.98" y="419.8">2004</text>
<text x="877.84" y="419.8">2005</text>
<text x="928.71" y="419.8">2006</text>
<text x="979.57" y="419.8">2007</text>
<text x="1030.44" y="419.8">2008</text>
<text x="1081.30" y="419.8">2009</text>
<text x="1132.17" y="419.8">2010</text>
<text x="1183.03" y="419.8">2011</text>
<text x="1233.90" y="419.8">2012</text>
<text x="1284.76" y="419.8">2013</text>
<text x="1335.63" y="419.8">2014</text>
<text x="1386.49" y="419.8">2015</text>
<text x="1437.36" y="419.8">2016</text>
<text x="1488.22" y="419.8">2017</text>
<text x="1539.09" y="419.8">2018</text>
<text x="1589.95" y="419.8">2019</text>
<text x="1640.82" y="419.8">2020</text>
</g>
<rect x="1686.9" y="194.8" width="24" height="72" fill="#F2F2F2"/>
<line x1="1689.3" x2="1708.6" y1="206.6" y2="206.6" stroke="#0000FF" stroke-width="2.85"/>
<circle cx="1698.9" cy="206.6" r="5.4" fill="#0000FF"/>
<text x="1719.3" y="210.8" font-size="12" fill="#000">NDVI</text>
<line x1="1689.3" x2="1708.6" y1="230.6" y2="230.6" stroke="#006400" stroke-width="2.85"/>
<circle cx="1698.9" cy="230.6" r="5.4" fill="#006400"/>
<text x="1719.3" y="234.8" font-size="12" fill="#000">SWIR2</text>
<line x1="1689.3" x2="1708.6" y1="254.6" y2="254.6" stroke="#FF0000" stroke-width="2.85"/>
<circle cx="1698.9" cy="254.6" r="5.4" fill="#FF0000"/>
<text x="1719.3" y="258.8" font-size="12" fill="#000">SWIR1</text>
</svg>
</body></html>
